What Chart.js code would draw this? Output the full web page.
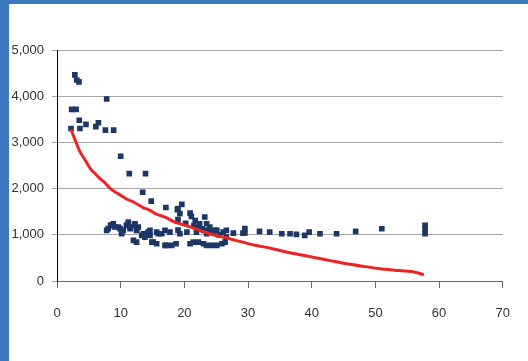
<!DOCTYPE html>
<html lang="en">
<head>
<meta charset="UTF-8" />
<title>Scatter with trend</title>
<script src="https://cdn.jsdelivr.net/npm/chart.js"></script>
<style>
  html, body {
    margin: 0;
    width: 528px;
    height: 361px;
    overflow: hidden;
    background: #3d79bd;
  }
  #frame {
    position: absolute;
    left: 9px;
    top: 4px;
    width: 519px;
    height: 357px;
    background: #ffffff;
  }
</style>
</head>
<body>

<div id="frame">
  <canvas id="chart" width="519" height="357"></canvas>
</div>

<script>
  // observed points
  const pointX = [
    2.2, 2.3, 3.0, 2.8, 3.1, 3.45, 3.5, 3.6, 4.55, 6.1, 6.5, 7.6, 7.8, 8.9,
    10.0, 11.35, 13.9, 13.45, 14.8, 17.1, 19.0, 19.6, 18.9, 19.3, 19.0, 20.9, 21.1, 21.7,
    23.2, 23.5, 22.4, 24.0, 24.8,
    7.8, 8.05, 8.42, 8.58, 8.84, 9.1, 9.63, 9.9, 10.15, 10.15, 10.41, 10.9, 11.2, 11.2,
    11.46, 11.5, 12.2, 12.24, 12.5, 12.5, 12.77, 13.3, 13.55, 13.8, 14.07, 14.3, 14.6, 14.6,
    15.65, 15.9, 16.43, 16.96, 17.74, 19.3, 20.4, 21.9, 23.0, 23.5, 25.1, 26.1, 26.6, 27.7,
    29.2, 29.5, 29.5, 31.8, 33.4, 35.3, 36.6, 37.6, 38.9, 39.6, 41.3, 43.9, 46.9, 51.0,
    57.8, 57.8, 57.8,
    12.0, 12.5, 14.9, 15.1, 15.65, 16.96, 17.2, 18.0, 18.7, 20.9, 21.4, 22.2, 23.0, 23.5,
    24.3, 25.1, 25.9, 26.4, 26.6,
    21.5, 22.0, 22.8, 23.8, 24.5, 25.5, 20.2, 19.0
  ];
  const pointY = [
    3300, 3715, 3715, 4460, 4350, 4310, 3480, 3300, 3390, 3340, 3425, 3265, 3940, 3265,
    2700, 2325, 2325, 1920, 1730, 1590, 1570, 1660, 1545, 1460, 1330, 1470, 1400, 1310,
    1385, 1240, 1240, 1165, 1095,
    1095, 1132, 1204, 1204, 1240, 1168, 1165, 1132, 1023, 1059, 1095, 1204, 1240, 1277,
    1165, 1132, 1204, 1240, 1095, 1132, 1165, 987, 1023, 951, 1023, 1059, 987, 1095,
    1059, 1023, 1023, 1095, 1059, 1023, 1059, 1059, 1095, 1023, 1095, 1059, 1095, 1037,
    1037, 1132, 1038, 1074, 1059, 1023, 1023, 1009, 987, 1059, 1023, 1023, 1074, 1131,
    1204, 1110, 1023,
    879, 843, 842, 843, 806, 770, 770, 770, 806, 806, 842, 842, 806, 770,
    770, 770, 806, 842, 951,
    1200, 1150, 1130, 1100, 1050, 1000, 1250, 1100
  ];

  // fitted curve
  const trendX = [2.2, 3.0, 3.6, 4.5, 5.2, 6.0, 6.8, 7.5, 8.3, 9.2, 10.2, 11.0, 12.0, 13.5,
    14.6, 15.4, 17.0, 18.4, 20.0, 20.9, 23.0, 24.5, 26.1, 28.0, 31.3, 33.5, 36.6, 40.2,
    43.0, 45.5, 48.0, 50.7, 53.0, 55.9, 57.6];
  const trendY = [3280, 3000, 2800, 2600, 2440, 2320, 2210, 2130, 2010, 1920, 1840, 1770, 1710, 1590,
    1530, 1460, 1380, 1280, 1210, 1170, 1070, 1000, 950, 880, 770, 710, 610, 516,
    440, 373, 320, 265, 235, 200, 135];

  const yTicks = [0, 1000, 2000, 3000, 4000, 5000];
  const xTicks = [0, 10, 20, 30, 40, 50, 60, 70];

  const tickFont = { family: "'Liberation Sans', Arial, sans-serif", size: 13 };

  new Chart(document.getElementById('chart'), {
    type: 'scatter',
    data: {
      datasets: [
        {
          label: 'Points',
          data: pointX.map((x, i) => ({ x: x, y: pointY[i] })),
          pointStyle: 'rect',
          pointRadius: 4,
          backgroundColor: '#1c3766',
          borderColor: '#1c3766',
          borderWidth: 0,
          order: 2
        },
        {
          label: 'Trend',
          type: 'line',
          data: trendX.map((x, i) => ({ x: x, y: trendY[i] })),
          borderColor: '#ee2424',
          borderWidth: 3,
          pointRadius: 0,
          fill: false,
          tension: 0.2,
          order: 1
        }
      ]
    },
    options: {
      responsive: false,
      animation: false,
      layout: { padding: { left: 0, right: 25, top: 46, bottom: 0 } },
      plugins: {
        legend: { display: false },
        tooltip: { enabled: false }
      },
      scales: {
        x: {
          type: 'linear',
          min: 0,
          max: 70,
          afterBuildTicks: s => { s.ticks = xTicks.map(v => ({ value: v })); },
          afterFit: s => { s.height = 80; },
          grid: { drawOnChartArea: false, drawTicks: true, tickLength: 7, color: '#666666' },
          border: { color: '#666666', width: 1 },
          ticks: { color: '#333333', font: tickFont, padding: 18, maxRotation: 0 }
        },
        y: {
          min: 0,
          max: 5000,
          afterBuildTicks: s => { s.ticks = yTicks.map(v => ({ value: v })); },
          afterFit: s => { s.width = 48; },
          grid: { color: '#a6a6a6', drawTicks: true, tickLength: 5 },
          border: { color: '#000000', width: 1 },
          ticks: {
            color: '#333333',
            font: tickFont,
            padding: 8,
            callback: v => v.toLocaleString('en-US')
          }
        }
      }
    }
  });
</script>

</body>
</html>
